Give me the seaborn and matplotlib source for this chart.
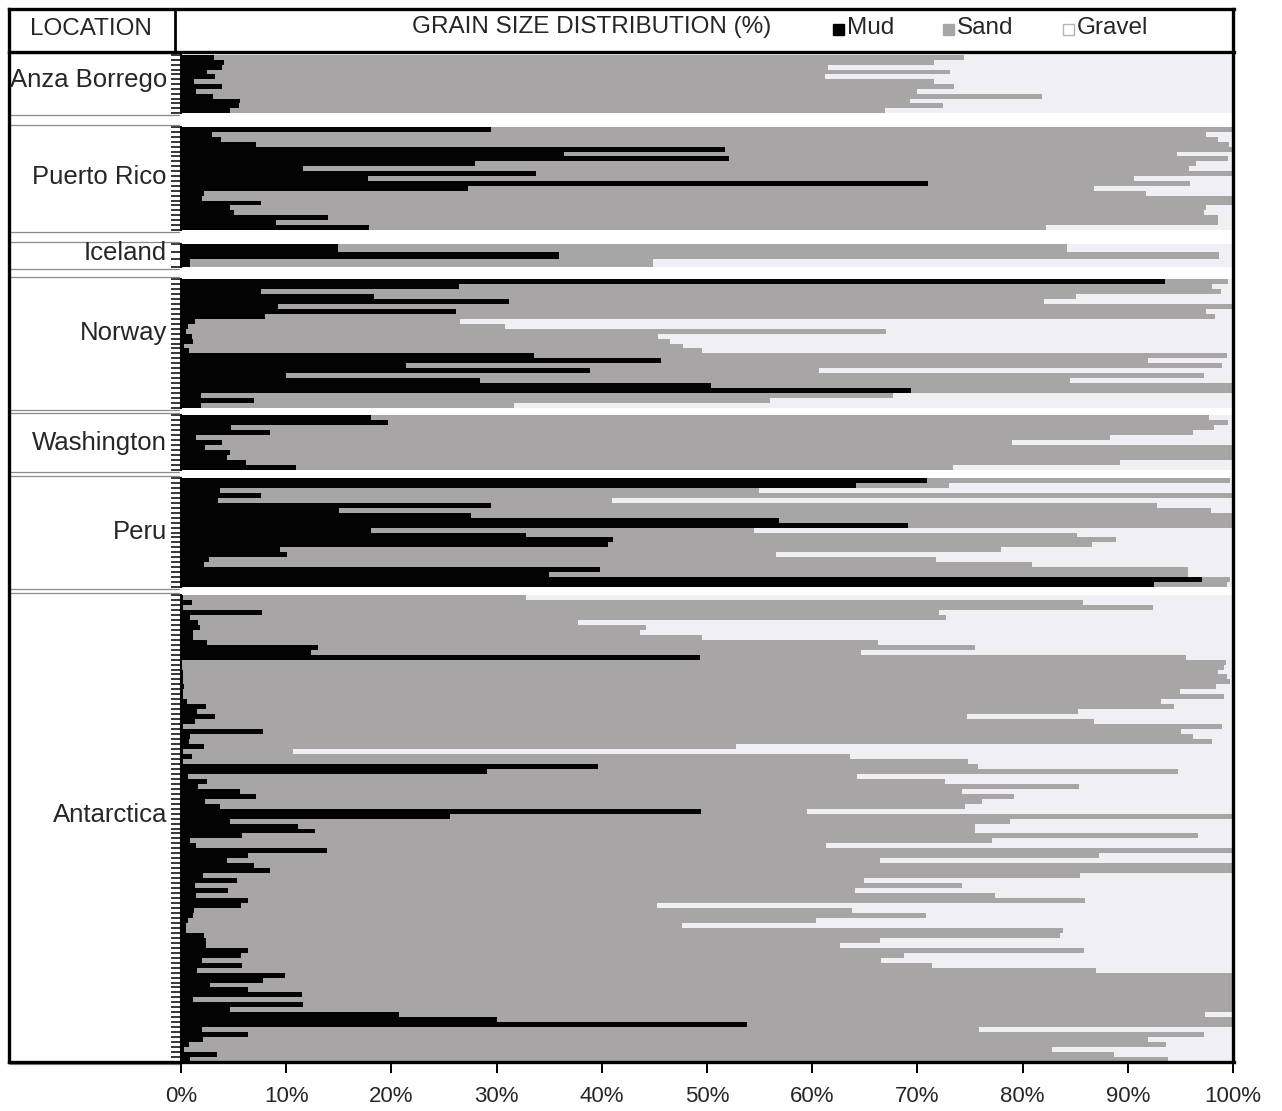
import numpy as np
import pandas as pd
import matplotlib
matplotlib.use("Agg")
import matplotlib.pyplot as plt
import seaborn as sns
from matplotlib.lines import Line2D
from matplotlib.patches import Rectangle
from matplotlib import font_manager

# ---------------- data (percent) ----------------
LOCATIONS = ["Anza Borrego", "Puerto Rico", "Iceland", "Norway",
             "Washington", "Peru", "Antarctica"]
LEGEND_LABELS = ["Mud", "Sand", "Gravel"]
X_TICKS = [0, 10, 20, 30, 40, 50, 60, 70, 80, 90, 100]
X_TICK_LABELS = ["0%", "10%", "20%", "30%", "40%", "50%", "60%", "70%", "80%", "90%", "100%"]

# mud = upper edge of the black part; mud_sand = upper edge of the grey part
ANZA_MUD = [3.1, 4.1, 3.9, 2.5, 3.2, 1.2, 3.9, 1.4, 3.0, 5.6, 5.5, 4.7]
ANZA_MUD_SAND = [74.4, 71.6, 61.5, 73.1, 61.2, 71.6, 73.5, 70.0, 81.8, 69.3, 72.4, 66.9]

PR_MUD = [29.5, 2.9, 3.8, 7.1, 51.7, 36.4, 52.1, 27.9, 11.6, 33.7, 17.8, 71.0,
          27.3, 2.2, 2.0, 7.6, 4.7, 5.0, 14.0, 9.0, 17.9]
PR_MUD_SAND = [100, 97.4, 98.6, 99.6, 100, 94.7, 99.5, 96.5, 95.8, 100, 90.6, 95.9,
               86.8, 91.7, 100, 100, 97.4, 97.2, 98.6, 98.6, 82.2]

ICE_MUD = [14.9, 35.9, 0.9]
ICE_MUD_SAND = [84.2, 98.7, 44.9]

NOR_MUD = [93.5, 26.4, 7.6, 18.3, 31.2, 9.2, 26.1, 8.0, 1.3, 0.7, 0.5, 1.0, 1.1,
           0.3, 0.8, 33.6, 45.6, 21.4, 38.9, 10.0, 28.4, 50.4, 69.4, 1.9, 6.9, 1.9]
NOR_MUD_SAND = [99.5, 98.0, 98.9, 85.1, 82.0, 100, 97.4, 98.3, 26.5, 30.8, 67.0, 45.3, 46.5,
                47.7, 49.5, 99.4, 91.9, 99.0, 60.6, 97.2, 84.5, 100, 100, 67.7, 56.0, 31.7]

WA_MUD = [18.1, 19.7, 4.8, 8.5, 1.4, 3.9, 2.3, 4.7, 4.4, 6.2, 10.9]
WA_MUD_SAND = [97.7, 99.5, 98.2, 96.2, 88.3, 79.0, 100, 100, 100, 89.3, 73.4]

PERU_MUD = [70.9, 64.2, 3.7, 7.6, 3.5, 29.5, 15.0, 27.6, 56.8, 69.1, 18.1,
            32.8, 41.1, 40.6, 9.4, 10.1, 2.7, 2.2, 39.8, 35.0, 97.1, 92.5]
PERU_MUD_SAND = [99.7, 73.0, 54.9, 100, 41.0, 92.8, 97.9, 100, 100, 100, 54.5,
                 85.2, 88.9, 86.6, 77.9, 56.6, 71.8, 80.9, 95.7, 95.7, 99.7, 99.4]

ANT_MUD = [0.2, 1.0, 0.2, 7.7, 0.9, 1.6, 1.8, 1.1, 1.1, 2.5,
           13.0, 12.4, 49.3, 0.1, 0.1, 0.2, 0.2, 0.2, 0.3, 0.2,
           0.2, 0.6, 2.4, 1.5, 3.2, 1.3, 0.2, 7.8, 0.9, 0.8,
           2.2, 0.2, 1.0, 0.2, 39.6, 29.1, 0.7, 2.5, 1.6, 5.6,
           7.1, 2.3, 3.7, 49.4, 25.6, 4.7, 11.1, 12.7,
           5.8, 0.9, 1.4, 13.9, 6.4, 4.4, 6.9, 8.5, 2.1, 5.3,
           1.3, 4.5, 1.4, 6.4, 5.7, 1.2, 1.1, 0.7, 0.5, 0.5,
           2.2, 2.4, 2.4, 6.4, 5.7, 2.0, 5.8, 1.5, 9.9, 7.8,
           2.8, 6.4, 11.5, 1.1, 11.6, 4.7, 20.7, 30.0, 53.8, 2.0,
           6.4, 2.1, 0.8, 0.3, 3.4, 0.9]
ANT_MUD_SAND = [32.8, 85.7, 92.4, 72.1, 72.7, 37.7, 44.2, 43.6, 49.5, 66.3,
                75.5, 64.6, 95.5, 99.3, 99.1, 98.6, 99.4, 99.7, 98.4, 95.0,
                99.1, 93.2, 94.4, 85.3, 74.7, 86.8, 99.0, 95.1, 96.2, 98.0,
                52.8, 10.6, 63.6, 74.8, 75.8, 94.8, 64.3, 72.6, 85.4, 74.2,
                79.2, 76.1, 74.5, 59.5, 100, 78.8, 75.5, 75.5,
                96.7, 77.1, 61.3, 100, 87.3, 66.4, 100, 100, 85.5, 64.9,
                74.2, 64.1, 77.4, 85.9, 45.2, 63.8, 70.8, 60.4, 47.6, 83.8,
                83.6, 66.4, 62.6, 85.8, 68.7, 66.5, 71.4, 87.0, 100, 100,
                100, 100, 100, 100, 100, 100, 97.3, 100, 100, 75.9,
                97.2, 91.9, 93.6, 82.8, 88.7, 93.8]

SERIES = [(ANZA_MUD, ANZA_MUD_SAND), (PR_MUD, PR_MUD_SAND), (ICE_MUD, ICE_MUD_SAND),
          (NOR_MUD, NOR_MUD_SAND), (WA_MUD, WA_MUD_SAND), (PERU_MUD, PERU_MUD_SAND),
          (ANT_MUD, ANT_MUD_SAND)]

# ---------------- layout / style ----------------
W, H = 1282, 1111
PANEL_Y = [(55, 113), (127, 230), (244, 267), (279, 408), (415, 470), (478, 587), (595, 1062)]
LABEL_Y = [80, 177, 253, 333, 443, 532, 815]
X0, X1 = 181, 1233
MUD_C, SAND_C, GRAVEL_C = "#030303", "#a7a5a6", "#f0f0f4"

sns.set_style("white")
avail = {f.name for f in font_manager.fontManager.ttflist}
if "Liberation Sans Narrow" in avail:
    FONT, FS_HEAD, FS_GROUP, FS_TICK = "Liberation Sans Narrow", 18, 19, 18
else:
    FONT, FS_HEAD, FS_GROUP, FS_TICK = "Liberation Sans", 17.5, 18.5, 16
plt.rcParams["font.family"] = [FONT, "DejaVu Sans"]

fig = plt.figure(figsize=(W / 100, H / 100), dpi=100)
fig.patch.set_facecolor("white")


def fx(x):
    return x / W


def fy(y):
    return 1 - y / H


for i, (name, (mud, ms), (top, bot)) in enumerate(zip(LOCATIONS, SERIES, PANEL_Y)):
    n = len(mud)
    ax = fig.add_axes([fx(X0), fy(bot), fx(X1) - fx(X0), (bot - top) / H])
    df = pd.DataFrame({
        "sample": [f"{name} {k + 1}" for k in range(n)],
        "mud": mud,
        "mud_sand": ms,
        "total": [100.0] * n,
    })
    for col, c in [("total", GRAVEL_C), ("mud_sand", SAND_C), ("mud", MUD_C)]:
        sns.barplot(data=df, x=col, y="sample", orient="h", color=c, saturation=1,
                    width=1.0, linewidth=0, errorbar=None, ax=ax)
    ax.set_xlim(0, 100)
    ax.set_ylim(n - 0.5, -0.5)
    ax.set_xlabel("")
    ax.set_ylabel("")
    ax.set_facecolor("white")
    ax.set_yticks(np.arange(-0.5, n, 1.0))
    ax.set_yticklabels([])
    ax.tick_params(axis="y", left=True, length=7, width=1.1, color="black", direction="out")
    for s in ["top", "right", "bottom"]:
        ax.spines[s].set_visible(False)
    ax.spines["left"].set_visible(True)
    ax.spines["left"].set_color("black")
    ax.spines["left"].set_linewidth(1.5)
    if i == len(LOCATIONS) - 1:
        ax.set_xticks(X_TICKS)
        ax.set_xticklabels(X_TICK_LABELS, fontsize=FS_TICK)
        ax.tick_params(axis="x", bottom=True, length=8, width=1.4, color="black",
                       direction="out", pad=9)
    else:
        ax.set_xticks([])
    # group label and separator lines in the location column
    fig.text(fx(167), fy(LABEL_Y[i]), name, ha="right", va="center", fontsize=FS_GROUP)
    for yy in (top - 2, bot + 2):
        fig.add_artist(Line2D([fx(10), fx(179)], [fy(yy), fy(yy)], color="#8a8a8a", lw=0.9))

# ---------------- frame and header ----------------
def hline(y, x0, x1, lw):
    fig.add_artist(Line2D([fx(x0), fx(x1)], [fy(y), fy(y)], color="black", lw=lw,
                          solid_capstyle="projecting"))


def vline(x, y0, y1, lw):
    fig.add_artist(Line2D([fx(x), fx(x)], [fy(y0), fy(y1)], color="black", lw=lw,
                          solid_capstyle="projecting"))


hline(9, 9, 1234, 2.4)
hline(52, 9, 1234, 2.4)
hline(1062, 9, 1234, 2.4)
vline(9, 9, 1062, 2.4)
vline(1233, 9, 1062, 2.4)
vline(175, 9, 52, 2.0)

fig.text(fx(91), fy(29), "LOCATION", ha="center", va="center", fontsize=FS_HEAD)
fig.text(fx(592), fy(27), "GRAIN SIZE DISTRIBUTION (%)", ha="center", va="center", fontsize=FS_HEAD)

legend_items = [(833, MUD_C, "black", LEGEND_LABELS[0]),
                (943, SAND_C, SAND_C, LEGEND_LABELS[1]),
                (1063, "white", "#b5b5b5", LEGEND_LABELS[2])]
for x, fc, ec, lab in legend_items:
    fig.add_artist(Rectangle((fx(x), fy(35)), 11 / W, 11 / H, facecolor=fc,
                             edgecolor=ec, lw=1.0, transform=fig.transFigure))
    fig.text(fx(x + 14), fy(28), lab, ha="left", va="center", fontsize=FS_HEAD)

fig.savefig("out.png", dpi=100, facecolor="white")
